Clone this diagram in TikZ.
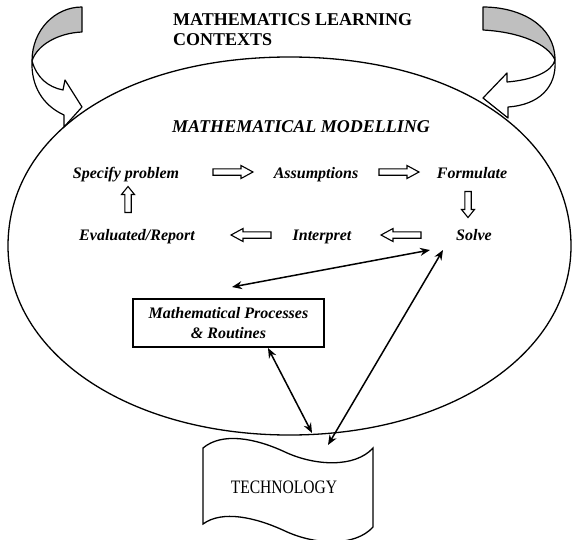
\documentclass[tikz,border=0pt]{standalone}
\usepackage{fontspec}
\setmainfont{Liberation Serif}
\usetikzlibrary{arrows.meta,calc}
\begin{document}
\begin{tikzpicture}[x=1pt,y=-1pt,
  lab/.style={font=\fontsize{16}{20}\selectfont\bfseries\itshape, inner sep=0pt, anchor=base},
  barr/.style={draw=black, fill=white, line width=1.1pt, line join=miter},
  link/.style={line width=1.5pt, {Stealth[length=10pt,width=8pt]}-{Stealth[length=10pt,width=8pt]}},
  curv/.style={draw=black, line width=1.2pt, line join=round},
  pics/hbar/.style={code={\draw[barr] (-20,-3.2) -- (8,-3.2) -- (8,-6.5) -- (20,0) -- (8,6.5) -- (8,3.2) -- (-20,3.2) -- cycle;}},
  pics/vbar/.style={code={\draw[barr] (-13,-3.2) -- (5,-3.2) -- (5,-6.5) -- (13,0) -- (5,6.5) -- (5,3.2) -- (-13,3.2) -- cycle;}},
]
\useasboundingbox (0,0) rectangle (572,539);

% main oval
\draw[line width=1.3pt] (8,246) .. controls (8,134.5) and (123.4,57) .. (289.5,57)
  .. controls (455.6,57) and (571,134.5) .. (571,246)
  .. controls (571,353.7) and (450,435) .. (289.5,435)
  .. controls (129,435) and (8,353.7) .. (8,246) -- cycle;

% left curved arrow
\filldraw[curv, fill=gray!50] (82,7) .. controls (55,7) and (32,30) .. (32,61)
  .. controls (37,45) and (58,33) .. (82,32) -- cycle;
\filldraw[curv, fill=white] (32,61) .. controls (37,78) and (48,87) .. (63,90)
  -- (65,80) -- (82,107) -- (64,127) -- (64,115)
  .. controls (42,105) and (31,85) .. (32,61) -- cycle;

% right curved arrow
\filldraw[curv, fill=gray!50] (483,7) .. controls (520,7) and (555,25) .. (555,60)
  .. controls (548,44) and (520,32) .. (483,30) -- cycle;
\filldraw[curv, fill=white] (555,60) .. controls (552,72) and (532,80) .. (507,82)
  -- (507,73) -- (483,98) -- (508,118) -- (508,107)
  .. controls (538,105) and (557,88) .. (555,60) -- cycle;

% titles
\node[anchor=north west, inner sep=0pt, align=left, font=\fontsize{18}{20}\selectfont\bfseries] (title) at (173,13) {MATHEMATICS LEARNING\\CONTEXTS};
\node[font=\fontsize{18}{20}\selectfont\bfseries\itshape, inner sep=0pt, anchor=base] (mm) at (301,132) {MATHEMATICAL MODELLING};

% cycle labels
\node[lab] (sp) at (126,178) {Specify problem};
\node[lab] (as) at (316,178) {Assumptions};
\node[lab] (fo) at (472,178) {Formulate};
\node[lab] (ev) at (137,240) {Evaluated/Report};
\node[lab] (in) at (322,240) {Interpret};
\node[lab] (so) at (474,240) {Solve};

% block arrows
\pic at (233,172) {hbar};
\pic at (399,172) {hbar};
\pic[rotate=180] at (251,235) {hbar};
\pic[rotate=180] at (401,235) {hbar};
\pic[rotate=90] at (128,199.5) {vbar};
\pic[rotate=-90] at (468,204.5) {vbar};

% processes box
\node[draw, line width=1.3pt, minimum width=191pt, minimum height=48pt, align=center,
  font=\fontsize{16}{20}\selectfont\bfseries\itshape] (mp) at (228.5,323) {Mathematical Processes\\\& Routines};

% technology banner
\draw[line width=1.3pt, fill=white] (203,448) .. controls (222,432) and (255,438) .. (285,452)
  .. controls (315,466) and (355,468) .. (373,448) -- (373,527)
  .. controls (355,547) and (315,545) .. (285,531)
  .. controls (255,517) and (222,510) .. (203,524) -- cycle;
\node[font=\fontsize{19}{20}\selectfont, inner sep=0pt] (tech) at (284,487) {\scalebox{0.82}[1]{TECHNOLOGY}};

% connectors
\coordinate (p1) at (232,287);
\coordinate (s1) at (430,250);
\coordinate (s2) at (443,250);
\coordinate (t2) at (328,445);
\coordinate (b3) at (268,348);
\coordinate (t3) at (312,433);
\draw[link] (p1) -- (s1);
\draw[link] (s2) -- (t2);
\draw[link] (b3) -- (t3);
\end{tikzpicture}
\end{document}
